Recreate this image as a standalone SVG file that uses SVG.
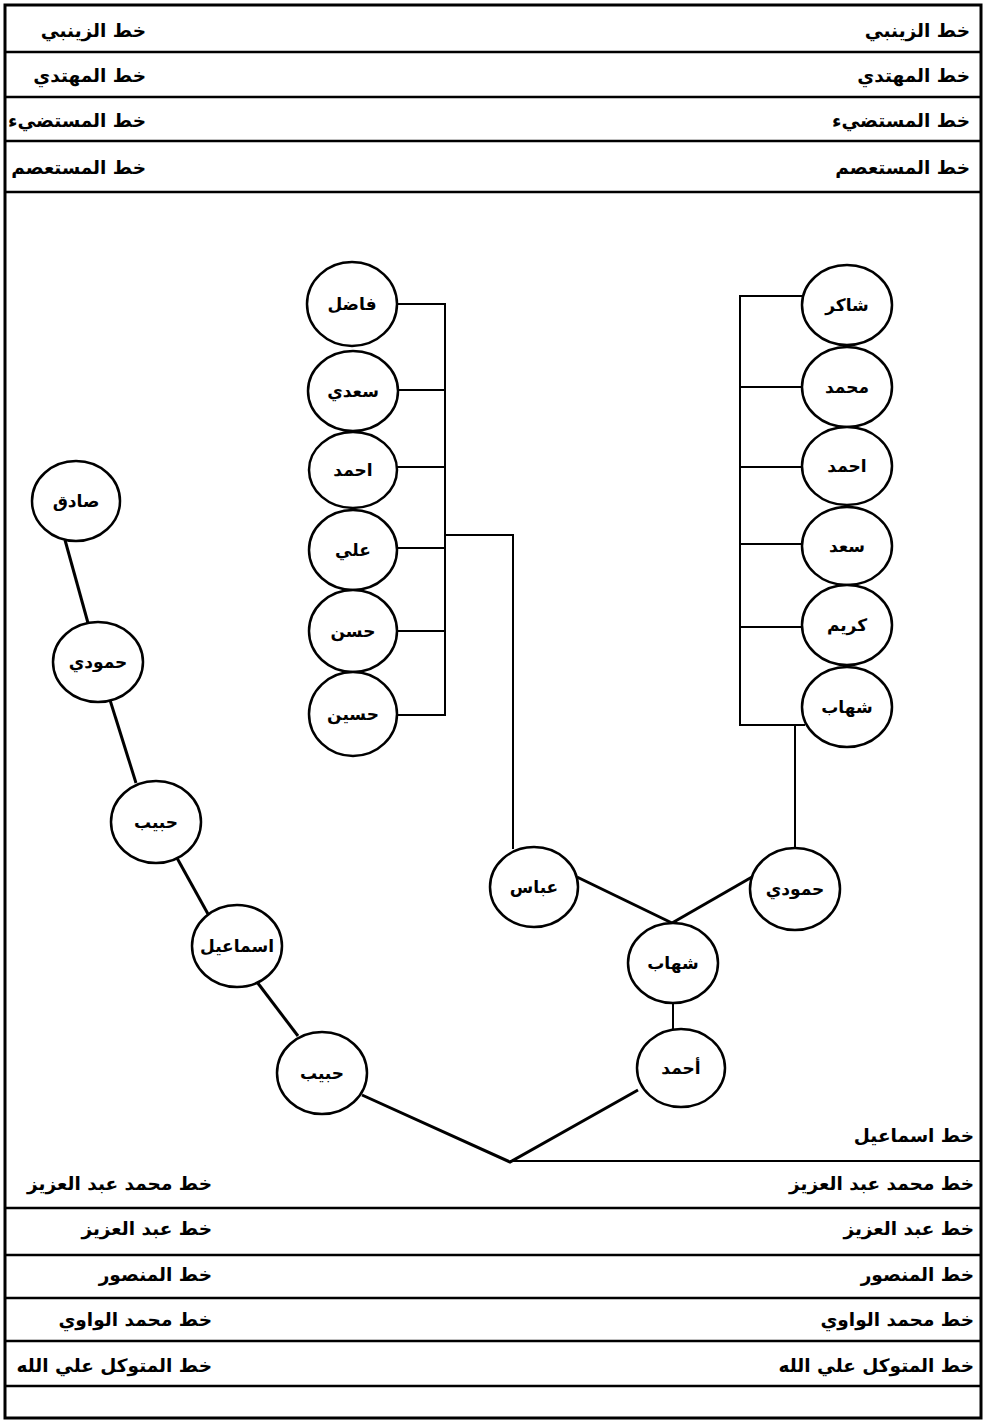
<svg xmlns="http://www.w3.org/2000/svg" width="985" height="1422" viewBox="0 0 985 1422">
<style>
.frame{fill:none;stroke:#000;stroke-width:3}
.row{stroke:#000;stroke-width:2.5}
.lbl{font-family:"DejaVu Sans",sans-serif;font-weight:bold;font-size:18.5px;fill:#000;text-anchor:end}
.node ellipse{fill:#fff;stroke:#000;stroke-width:2.5}
.node text{font-family:"DejaVu Sans",sans-serif;font-weight:bold;font-size:17px;fill:#000;text-anchor:middle}
.br{fill:none;stroke:#000;stroke-width:2}
.ln{fill:none;stroke:#000;stroke-width:3}
</style>
<rect width="985" height="1422" fill="#fff"/>
<g id="frame">
<rect class="frame" x="5" y="5" width="976" height="1413"/>
<line class="row" x1="5" y1="52" x2="981" y2="52"/>
<line class="row" x1="5" y1="97" x2="981" y2="97"/>
<line class="row" x1="5" y1="141" x2="981" y2="141"/>
<line class="row" x1="5" y1="192" x2="981" y2="192"/>
<line class="row" x1="5" y1="1208" x2="981" y2="1208"/>
<line class="row" x1="5" y1="1255" x2="981" y2="1255"/>
<line class="row" x1="5" y1="1298" x2="981" y2="1298"/>
<line class="row" x1="5" y1="1341" x2="981" y2="1341"/>
<line class="row" x1="5" y1="1386" x2="981" y2="1386"/>
</g>
<g id="labels">
<text class="lbl" x="970" y="37">خط الزينبي</text>
<text class="lbl" x="146" y="37">خط الزينبي</text>
<text class="lbl" x="970" y="82">خط المهتدي</text>
<text class="lbl" x="146" y="82">خط المهتدي</text>
<text class="lbl" x="970" y="127">خط المستضيء</text>
<text class="lbl" x="146" y="127">خط المستضيء</text>
<text class="lbl" x="970" y="174">خط المستعصم</text>
<text class="lbl" x="146" y="174">خط المستعصم</text>
<text class="lbl" x="974" y="1142">خط اسماعيل</text>
<text class="lbl" x="974" y="1190">خط محمد عبد العزيز</text>
<text class="lbl" x="212" y="1190">خط محمد عبد العزيز</text>
<text class="lbl" x="974" y="1235">خط عبد العزيز</text>
<text class="lbl" x="212" y="1235">خط عبد العزيز</text>
<text class="lbl" x="974" y="1281">خط المنصور</text>
<text class="lbl" x="212" y="1281">خط المنصور</text>
<text class="lbl" x="974" y="1326">خط محمد الواوي</text>
<text class="lbl" x="212" y="1326">خط محمد الواوي</text>
<text class="lbl" x="974" y="1372">خط المتوكل علي الله</text>
<text class="lbl" x="212" y="1372">خط المتوكل علي الله</text>
</g>
<g id="connectors">
<polyline class="br" points="397,304 445,304 445,715 397,715"/>
<line class="br" x1="397" y1="390" x2="445" y2="390"/>
<line class="br" x1="397" y1="467" x2="445" y2="467"/>
<line class="br" x1="397" y1="548" x2="445" y2="548"/>
<line class="br" x1="397" y1="631" x2="445" y2="631"/>
<polyline class="br" points="445,535 513,535 513,849"/>
<polyline class="br" points="803,296 740,296 740,725 805,725"/>
<line class="br" x1="740" y1="387" x2="803" y2="387"/>
<line class="br" x1="740" y1="467" x2="803" y2="467"/>
<line class="br" x1="740" y1="544" x2="803" y2="544"/>
<line class="br" x1="740" y1="627" x2="803" y2="627"/>
<line class="br" x1="795" y1="725" x2="795" y2="849"/>
<line class="ln" x1="577" y1="877" x2="672" y2="923"/>
<line class="ln" x1="752" y1="877" x2="672" y2="923"/>
<line class="br" x1="673" y1="1003" x2="673" y2="1030"/>
<polyline class="ln" points="638,1090 510,1162 362,1095"/>
<line class="br" x1="510" y1="1161" x2="981" y2="1161"/>
<line class="ln" x1="65" y1="540" x2="88" y2="623"/>
<line class="ln" x1="110" y1="700" x2="136" y2="783"/>
<line class="ln" x1="177" y1="858" x2="208" y2="914"/>
<line class="ln" x1="257" y1="982" x2="298" y2="1036"/>
</g>
<g id="n_fadel" class="node"><ellipse cx="352" cy="304" rx="45" ry="42"/><text x="352" y="310">فاضل</text></g>
<g id="n_saadi" class="node"><ellipse cx="353" cy="391" rx="45" ry="40"/><text x="353" y="397">سعدي</text></g>
<g id="n_ahmad1" class="node"><ellipse cx="353" cy="470" rx="44" ry="38"/><text x="353" y="476">احمد</text></g>
<g id="n_ali" class="node"><ellipse cx="353" cy="550" rx="44" ry="40"/><text x="353" y="556">علي</text></g>
<g id="n_hasan" class="node"><ellipse cx="353" cy="631" rx="44" ry="41"/><text x="353" y="637">حسن</text></g>
<g id="n_husain" class="node"><ellipse cx="353" cy="714" rx="44" ry="42"/><text x="353" y="720">حسين</text></g>
<g id="n_shaker" class="node"><ellipse cx="847" cy="305" rx="45" ry="40"/><text x="847" y="311">شاكر</text></g>
<g id="n_mohammad" class="node"><ellipse cx="847" cy="387" rx="45" ry="40"/><text x="847" y="393">محمد</text></g>
<g id="n_ahmad2" class="node"><ellipse cx="847" cy="466" rx="45" ry="39"/><text x="847" y="472">احمد</text></g>
<g id="n_saad" class="node"><ellipse cx="847" cy="546" rx="45" ry="39"/><text x="847" y="552">سعد</text></g>
<g id="n_karim" class="node"><ellipse cx="847" cy="625" rx="45" ry="40"/><text x="847" y="631">كريم</text></g>
<g id="n_shehab1" class="node"><ellipse cx="847" cy="707" rx="45" ry="40"/><text x="847" y="713">شهاب</text></g>
<g id="n_abbas" class="node"><ellipse cx="534" cy="887" rx="44" ry="40"/><text x="534" y="893">عباس</text></g>
<g id="n_hamoudi1" class="node"><ellipse cx="795" cy="889" rx="45" ry="41"/><text x="795" y="895">حمودي</text></g>
<g id="n_shehab2" class="node"><ellipse cx="673" cy="963" rx="45" ry="40"/><text x="673" y="969">شهاب</text></g>
<g id="n_ahmad3" class="node"><ellipse cx="681" cy="1068" rx="44" ry="39"/><text x="681" y="1074">أحمد</text></g>
<g id="n_sadeq" class="node"><ellipse cx="76" cy="501" rx="44" ry="40"/><text x="76" y="507">صادق</text></g>
<g id="n_hamoudi2" class="node"><ellipse cx="98" cy="662" rx="45" ry="40"/><text x="98" y="668">حمودي</text></g>
<g id="n_habib1" class="node"><ellipse cx="156" cy="822" rx="45" ry="41"/><text x="156" y="828">حبيب</text></g>
<g id="n_ismail" class="node"><ellipse cx="237" cy="946" rx="45" ry="41"/><text x="237" y="952">اسماعيل</text></g>
<g id="n_habib2" class="node"><ellipse cx="322" cy="1073" rx="45" ry="41"/><text x="322" y="1079">حبيب</text></g>
</svg>
